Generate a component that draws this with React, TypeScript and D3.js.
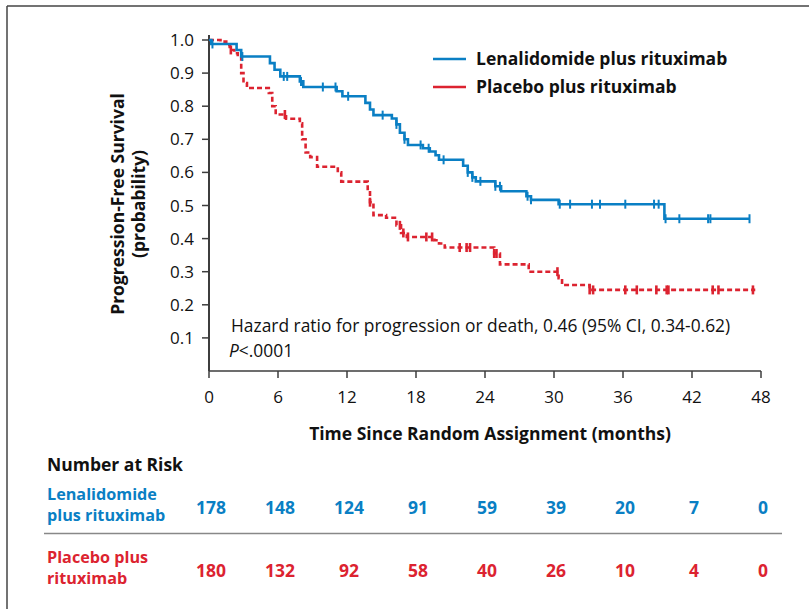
import React from "react";
import * as d3 from "d3";

// Kaplan-Meier step points: [months, survival probability]
const lenalidomideSteps: [number, number][] = [
  [0, 1.0], [0.2, 0.988], [2.4, 0.97], [2.8, 0.95], [5.3, 0.93], [5.7, 0.91],
  [6.2, 0.89], [7.9, 0.875], [8.2, 0.858], [11.1, 0.845], [11.6, 0.83],
  [13.6, 0.81], [14.0, 0.79], [14.3, 0.773], [15.9, 0.763], [16.3, 0.745],
  [16.6, 0.72], [17.0, 0.70], [17.3, 0.683], [18.6, 0.673], [19.2, 0.663],
  [19.7, 0.652], [20.0, 0.638], [22.1, 0.62], [22.5, 0.60], [22.9, 0.585],
  [23.2, 0.573], [24.9, 0.558], [25.4, 0.543], [27.6, 0.528], [28.0, 0.517],
  [30.4, 0.504], [39.6, 0.46], [47.0, 0.46],
];

const placeboSteps: [number, number][] = [
  [0, 1.0], [1.0, 0.995], [1.5, 0.985], [1.8, 0.97], [2.2, 0.96], [2.5, 0.95],
  [2.8, 0.90], [3.0, 0.87], [3.3, 0.855], [5.2, 0.84], [5.5, 0.80],
  [5.8, 0.775], [6.7, 0.762], [7.9, 0.748], [8.1, 0.70], [8.4, 0.66],
  [8.8, 0.646], [9.4, 0.617], [11.2, 0.60], [11.5, 0.572], [13.8, 0.55],
  [14.0, 0.51], [14.3, 0.471], [15.4, 0.463], [16.3, 0.44], [16.7, 0.417],
  [17.2, 0.405], [19.6, 0.395], [20.0, 0.385], [20.5, 0.373], [24.8, 0.355],
  [25.3, 0.322], [27.8, 0.30], [30.4, 0.28], [30.7, 0.26], [33.1, 0.245],
  [47.5, 0.245],
];

// Censoring times (months)
const lenalidomideCensor = [
  0.3, 2.9, 6.5, 6.8, 8.0, 9.9, 11.0, 12.1, 15.1, 16.3, 17.0, 18.4, 19.1,
  20.4, 22.5, 22.9, 23.6, 24.9, 25.3, 27.7, 28.0, 30.5, 31.4, 33.3, 34.0,
  36.2, 38.7, 39.1, 39.7, 40.9, 43.4, 43.6, 47.0,
];
const placeboCensor = [
  1.9, 6.6, 14.0, 16.6, 16.9, 17.3, 18.9, 19.4, 21.8, 22.4, 22.7, 24.8, 25.0,
  30.3, 33.1, 33.4, 36.2, 37.2, 38.9, 39.8, 39.95, 43.8, 44.3, 47.3,
];

const xTicks = [0, 6, 12, 18, 24, 30, 36, 42, 48];
const yTicks = [0.1, 0.2, 0.3, 0.4, 0.5, 0.6, 0.7, 0.8, 0.9, 1.0];

const seriesNames = ["Lenalidomide plus rituximab", "Placebo plus rituximab"];
const riskLabels = [["Lenalidomide", "plus rituximab"], ["Placebo plus", "rituximab"]];
const lenalidomideAtRisk = [178, 148, 124, 91, 59, 39, 20, 7, 0];
const placeboAtRisk = [180, 132, 92, 58, 40, 26, 10, 4, 0];

const BLUE = "#0a7fc4";
const RED = "#dc2330";
const AXIS = "#3d3d3d";
const FONT = "'Open Sans', sans-serif";
const REG = 17;
const BOLD = 17.5;
const ROWLABEL = 16.2;

function stepValueAt(steps: [number, number][], t: number) {
  let v = steps[0][1];
  for (const [s, p] of steps) {
    if (s <= t) v = p;
    else break;
  }
  return v;
}

export default function App() {
  const width = 809;
  const height = 609;
  const x = d3.scaleLinear().domain([0, 48]).range([209, 761]);
  const y = d3.scaleLinear().domain([0, 1]).range([371, 40]);

  const line = d3
    .line<[number, number]>()
    .x((d) => x(d[0]))
    .y((d) => y(d[1]))
    .curve(d3.curveStepAfter);

  const censorMarks = (steps: [number, number][], times: number[], color: string, w: number) =>
    times.map((t, i) => {
      const cx = x(t);
      const cy = y(stepValueAt(steps, t));
      return (
        <line key={i} x1={cx} x2={cx} y1={cy - 4.5} y2={cy + 4.5} stroke={color} strokeWidth={w} />
      );
    });

  return (
    <svg width={width} height={height} style={{ position: "absolute", left: 0, top: 0, background: "#fff" }}>
      {/* frame */}
      <line x1={7} x2={809} y1={6} y2={6} stroke="#444" strokeWidth={1.5} />
      <line x1={7} x2={7} y1={6} y2={609} stroke="#444" strokeWidth={1.5} />

      {/* y axis */}
      <line x1={x(0)} x2={x(0)} y1={y(1.015)} y2={y(0)} stroke={AXIS} strokeWidth={2} />
      {yTicks.map((t) => (
        <g key={t}>
          <line x1={x(0) - 7} x2={x(0)} y1={y(t)} y2={y(t)} stroke={AXIS} strokeWidth={1.5} />
          <text x={x(0) - 15} y={y(t) + 6} textAnchor="end" fontFamily={FONT} fontSize={REG} fill="#111">
            {t.toFixed(1)}
          </text>
        </g>
      ))}

      {/* x axis */}
      <line x1={x(0)} x2={x(48)} y1={y(0)} y2={y(0)} stroke={AXIS} strokeWidth={1.5} />
      {xTicks.map((t) => (
        <g key={t}>
          <line x1={x(t)} x2={x(t)} y1={y(0)} y2={y(0) + 7} stroke={AXIS} strokeWidth={1.5} />
          <text x={x(t)} y={403} textAnchor="middle" fontFamily={FONT} fontSize={REG} fill="#111">
            {t}
          </text>
        </g>
      ))}

      {/* axis titles */}
      <text x={490} y={440} textAnchor="middle" fontFamily={FONT} fontWeight="bold" fontSize={BOLD} fill="#111">
        Time Since Random Assignment (months)
      </text>
      <g transform="translate(124,204) rotate(-90)">
        <text x={0} y={0} textAnchor="middle" fontFamily={FONT} fontWeight="bold" fontSize={BOLD} fill="#111">
          Progression-Free Survival
        </text>
        <text x={0} y={21} textAnchor="middle" fontFamily={FONT} fontWeight="bold" fontSize={BOLD} fill="#111">
          (probability)
        </text>
      </g>

      {/* survival curves */}
      <path d={line(placeboSteps) ?? ""} fill="none" stroke={RED} strokeWidth={2.6} strokeDasharray="5,3" />
      {censorMarks(placeboSteps, placeboCensor, RED, 2.6)}
      <path d={line(lenalidomideSteps) ?? ""} fill="none" stroke={BLUE} strokeWidth={2.6} />
      {censorMarks(lenalidomideSteps, lenalidomideCensor, BLUE, 2)}

      {/* legend */}
      <line x1={433} x2={466} y1={59} y2={59} stroke={BLUE} strokeWidth={2.6} />
      <text x={476} y={65} fontFamily={FONT} fontWeight="bold" fontSize={BOLD} fill="#111">
        {seriesNames[0]}
      </text>
      <line x1={433} x2={466} y1={87} y2={87} stroke={RED} strokeWidth={2.6} />
      <text x={476} y={93} fontFamily={FONT} fontWeight="bold" fontSize={BOLD} fill="#111">
        {seriesNames[1]}
      </text>

      {/* statistics */}
      <text x={231} y={332} fontFamily={FONT} fontSize={17.4} fill="#111">
        Hazard ratio for progression or death, 0.46 (95% CI, 0.34-0.62)
      </text>
      <text x={229} y={357} fontFamily={FONT} fontSize={17.4} fill="#111">
        <tspan fontStyle="italic">P</tspan>&lt;.0001
      </text>

      {/* number at risk table */}
      <text x={47} y={471} fontFamily={FONT} fontWeight="bold" fontSize={BOLD} fill="#111">
        Number at Risk
      </text>
      {riskLabels[0].map((s, i) => (
        <text key={s} x={47} y={500 + i * 21} fontFamily={FONT} fontWeight="bold" fontSize={ROWLABEL} fill={BLUE}>
          {s}
        </text>
      ))}
      {lenalidomideAtRisk.map((n, i) => (
        <text key={i} x={x(xTicks[i]) + 2} y={514} textAnchor="middle" fontFamily={FONT} fontWeight="bold" fontSize={BOLD} fill={BLUE}>
          {n}
        </text>
      ))}
      <line x1={44} x2={782} y1={533.5} y2={533.5} stroke="#888" strokeWidth={1.5} />
      {riskLabels[1].map((s, i) => (
        <text key={s} x={47} y={563 + i * 21} fontFamily={FONT} fontWeight="bold" fontSize={ROWLABEL} fill={RED}>
          {s}
        </text>
      ))}
      {placeboAtRisk.map((n, i) => (
        <text key={i} x={x(xTicks[i]) + 2} y={577} textAnchor="middle" fontFamily={FONT} fontWeight="bold" fontSize={BOLD} fill={RED}>
          {n}
        </text>
      ))}
    </svg>
  );
}
